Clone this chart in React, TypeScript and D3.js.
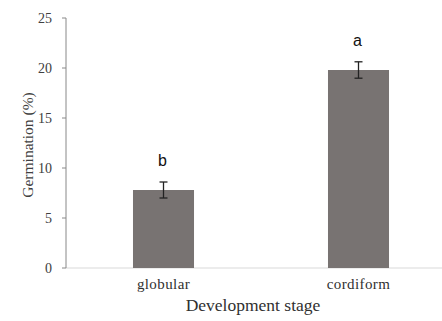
import React from "react";
import * as d3 from "d3";

const categories = ["globular", "cordiform"];
const values = [7.8, 19.8];
const errors = [0.8, 0.82];
const letters = ["b", "a"];
const yTicks = [0, 5, 10, 15, 20, 25];

const W = 442;
const H = 321;
const left = 66;
const top = 18;
const bottom = 268;

export default function App() {
  const y = d3.scaleLinear().domain([0, 25]).range([bottom, top]);
  const x = d3.scaleBand().domain(categories).range([left, left + 390]).padding(0);
  const bw = x.bandwidth() * 0.313;
  const serif = "'Liberation Serif', 'Times New Roman', serif";
  const sans = "'Liberation Sans', Arial, sans-serif";
  return (
    <svg width={W} height={H} style={{ position: "absolute", left: 0, top: 0, background: "#fff" }}>
      {/* baseline */}
      <line x1={left} x2={W} y1={y(0)} y2={y(0)} stroke="#d9d9d9" strokeWidth={1.2} />
      {/* y axis */}
      <line x1={left} x2={left} y1={y(25)} y2={y(0)} stroke="#888" strokeWidth={1} />
      {yTicks.map((t) => (
        <g key={t}>
          <line x1={left - 4} x2={left} y1={y(t)} y2={y(t)} stroke="#888" strokeWidth={1} />
          <text x={52} y={y(t)} dy="0.35em" textAnchor="end" fontFamily={serif} fontSize={14} fill="#404040">
            {t}
          </text>
        </g>
      ))}
      <text
        transform={`translate(33,145) rotate(-90)`}
        textAnchor="middle"
        fontFamily={serif}
        fontSize={15.5}
        fill="#404040"
      >
        Germination (%)
      </text>
      {categories.map((c, i) => {
        const cx = (x(c) as number) + x.bandwidth() / 2;
        return (
          <g key={c}>
            <rect x={cx - bw / 2} y={y(values[i])} width={bw} height={y(0) - y(values[i])} fill="#787372" />
            <line x1={cx} x2={cx} y1={y(values[i] + errors[i])} y2={y(values[i] - errors[i])} stroke="#222" strokeWidth={1.3} />
            <line x1={cx - 4} x2={cx + 4} y1={y(values[i] + errors[i])} y2={y(values[i] + errors[i])} stroke="#222" strokeWidth={1.3} />
            <line x1={cx - 4} x2={cx + 4} y1={y(values[i] - errors[i])} y2={y(values[i] - errors[i])} stroke="#222" strokeWidth={1.3} />
            <text x={cx - 1} y={y(values[i] + errors[i]) - 16} textAnchor="middle" fontFamily={sans} fontSize={16} fill="#111">
              {letters[i]}
            </text>
            <text x={cx} y={289} textAnchor="middle" fontFamily={serif} fontSize={15} letterSpacing={0.4} fill="#303030">
              {c}
            </text>
          </g>
        );
      })}
      <text x={253} y={311} textAnchor="middle" fontFamily={serif} fontSize={17.5} fill="#303030">
        Development stage
      </text>
    </svg>
  );
}
